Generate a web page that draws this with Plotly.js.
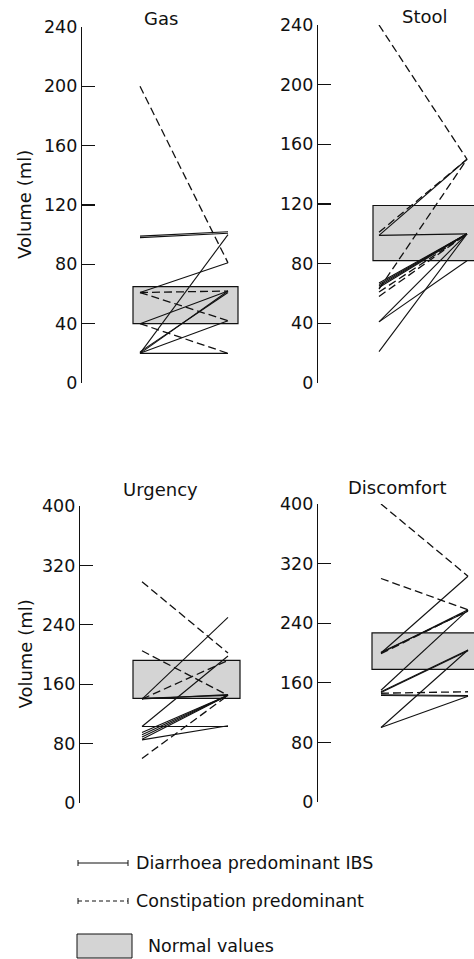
<!DOCTYPE html>
<html>
<head>
<meta charset="utf-8">
<script src="https://cdn.plot.ly/plotly-3.0.1.min.js"></script>
<style>html,body{margin:0;padding:0;background:#fff;}#chart{width:474px;height:959px;}</style>
</head>
<body>
<div id="chart"></div>
<script>
// ---- Data (volume in ml; each pair = [before, after]) ----
var panelTitles = ['Gas', 'Stool', 'Urgency', 'Discomfort'];
var yTitle = 'Volume (ml)';
var tickValsTop = [0, 40, 80, 120, 160, 200, 240];
var tickValsBottom = [0, 80, 160, 240, 320, 400];

var gasDiarrhoea = [[99,102],[98,101],[61,81],[40,62],[20,100],[20,62],[21,61],[20,42],[20,20]];
var gasConstipation = [[200,81],[61,62],[61,42],[40,20]];
var gasNormal = [40, 65];

var stoolDiarrhoea = [[99,150],[99,100],[67,100],[66,100],[65,100],[64,100],[41,100],[41,82],[21,100]];
var stoolConstipation = [[240,150],[101,150],[63,150],[61,100],[58,100]];
var stoolNormal = [82, 119];

var urgencyDiarrhoea = [[140,250],[103,198],[140,146],[141,145],[95,145],[92,145],[89,145],[86,145],[103,103],[85,104]];
var urgencyConstipation = [[298,202],[205,145],[140,192],[60,145]];
var urgencyNormal = [141, 192];

var discomfortDiarrhoea = [[200,303],[200,258],[201,256],[150,258],[148,204],[147,203],[143,142],[144,143],[100,204],[100,142]];
var discomfortConstipation = [[400,303],[300,258],[199,257],[146,148]];
var discomfortNormal = [178, 227];

var legendLabels = ['Diarrhoea predominant IBS', 'Constipation predominant', 'Normal values'];

// ---- Build ----
var W = 474, H = 959;
function fx(px){ return px / W; }
function fy(py){ return 1 - py / H; }
var FONT = 'DejaVu Sans, Arial, sans-serif';

var panels = [
  {title: panelTitles[0], d: gasDiarrhoea, c: gasConstipation, n: gasNormal, ticks: tickValsTop, ymax: 240,
   ax: 82, L: 140, R: 228, E: 240, bx0: 133, bx1: 238, top: 27, bot: 383, tx: 161, ty: 19, ytitle: true},
  {title: panelTitles[1], d: stoolDiarrhoea, c: stoolConstipation, n: stoolNormal, ticks: tickValsTop, ymax: 240,
   ax: 318, L: 379, R: 467, E: 474, bx0: 373, bx1: 490, top: 25, bot: 383, tx: 425, ty: 17, ytitle: false},
  {title: panelTitles[2], d: urgencyDiarrhoea, c: urgencyConstipation, n: urgencyNormal, ticks: tickValsBottom, ymax: 400,
   ax: 80, L: 142, R: 228, E: 242, bx0: 133, bx1: 240, top: 506, bot: 803, tx: 160, ty: 489, ytitle: true},
  {title: panelTitles[3], d: discomfortDiarrhoea, c: discomfortConstipation, n: discomfortNormal, ticks: tickValsBottom, ymax: 400,
   ax: 318, L: 381, R: 468, E: 474, bx0: 372, bx1: 490, top: 504, bot: 802, tx: 397, ty: 487, ytitle: false}
];

var traces = [], shapes = [], annotations = [];
var layout = {
  width: W, height: H,
  margin: {l: 0, r: 0, t: 0, b: 0, pad: 0},
  paper_bgcolor: '#fff', plot_bgcolor: 'rgba(0,0,0,0)',
  showlegend: false,
  font: {family: FONT, color: '#111'}
};

function segs(pairs){
  var xs = [], ys = [];
  pairs.forEach(function(p){ xs.push(0, 1, null); ys.push(p[0], p[1], null); });
  return {x: xs, y: ys};
}

panels.forEach(function(p, i){
  var k = i === 0 ? '' : String(i + 1);
  var xa = 'x' + k, ya = 'y' + k;
  var unit = p.R - p.L;
  layout['xaxis' + k] = {
    domain: [fx(p.ax), fx(p.E)],
    range: [-(p.L - p.ax) / unit, (p.E - p.L) / unit],
    anchor: ya, visible: false, fixedrange: true
  };
  layout['yaxis' + k] = {
    domain: [fy(p.bot), fy(p.top)],
    range: [0, p.ymax], anchor: xa,
    showline: true, linecolor: '#111', linewidth: 1.2,
    ticks: 'inside', ticklen: 13, tickwidth: 1.2, tickcolor: '#111',
    tickvals: p.ticks, ticktext: p.ticks.map(String),
    tickfont: {family: FONT, size: 17.5, color: '#111'},
    showgrid: false, zeroline: false, fixedrange: true
  };
  // normal values box
  shapes.push({type: 'rect', xref: xa, yref: ya, layer: 'below',
    x0: (p.bx0 - p.L) / unit, x1: (p.bx1 - p.L) / unit, y0: p.n[0], y1: p.n[1],
    fillcolor: '#d4d4d4', line: {color: '#111', width: 1.2}});
  var sd = segs(p.d), sc = segs(p.c);
  traces.push({type: 'scatter', mode: 'lines', xaxis: xa, yaxis: ya, x: sd.x, y: sd.y,
    line: {color: '#111', width: 1.1}, hoverinfo: 'skip', connectgaps: false});
  traces.push({type: 'scatter', mode: 'lines', xaxis: xa, yaxis: ya, x: sc.x, y: sc.y,
    line: {color: '#111', width: 1.3, dash: '8px,4px'}, hoverinfo: 'skip', connectgaps: false});
  annotations.push({xref: 'paper', yref: 'paper', x: fx(p.tx), y: fy(p.ty), text: p.title,
    showarrow: false, xanchor: 'center', yanchor: 'middle', font: {family: FONT, size: 18, color: '#111'}});
  if (p.ytitle) {
    annotations.push({xref: 'paper', yref: 'paper', x: fx(25), y: fy((p.top + p.bot) / 2), text: yTitle,
      textangle: -90, showarrow: false, xanchor: 'center', yanchor: 'middle',
      font: {family: FONT, size: 18, color: '#111'}});
  }
});

// ---- Legend (drawn) ----
function hline(x0, x1, y, dash){
  shapes.push({type: 'line', xref: 'paper', yref: 'paper', x0: fx(x0), x1: fx(x1), y0: fy(y), y1: fy(y),
    line: {color: '#111', width: 1, dash: dash || 'solid'}});
  [x0, x1].forEach(function(xx){
    shapes.push({type: 'line', xref: 'paper', yref: 'paper', x0: fx(xx), x1: fx(xx), y0: fy(y - 3), y1: fy(y + 3),
      line: {color: '#111', width: 1}});
  });
}
hline(78, 128, 863, 'solid');
hline(78, 128, 901, '4px,3px');
shapes.push({type: 'rect', xref: 'paper', yref: 'paper', x0: fx(77), x1: fx(132), y0: fy(934), y1: fy(958),
  fillcolor: '#d4d4d4', line: {color: '#111', width: 1}});
annotations.push({xref: 'paper', yref: 'paper', x: fx(134), y: fy(863), text: legendLabels[0],
  showarrow: false, xanchor: 'left', yanchor: 'middle', font: {family: FONT, size: 17.5, color: '#111'}});
annotations.push({xref: 'paper', yref: 'paper', x: fx(134), y: fy(901), text: legendLabels[1],
  showarrow: false, xanchor: 'left', yanchor: 'middle', font: {family: FONT, size: 17.5, color: '#111'}});
annotations.push({xref: 'paper', yref: 'paper', x: fx(146), y: fy(946), text: legendLabels[2],
  showarrow: false, xanchor: 'left', yanchor: 'middle', font: {family: FONT, size: 17.5, color: '#111'}});

layout.shapes = shapes;
layout.annotations = annotations;

Plotly.newPlot('chart', traces, layout, {displayModeBar: false, staticPlot: true});
</script>
</body>
</html>
